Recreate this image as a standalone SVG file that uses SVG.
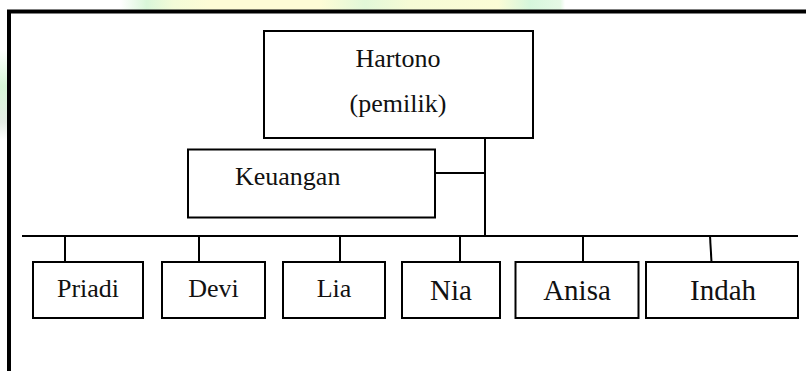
<svg xmlns="http://www.w3.org/2000/svg" width="806" height="371" viewBox="0 0 806 371">
  <defs>
    <linearGradient id="wm" x1="0" y1="0" x2="1" y2="0">
      <stop offset="0" stop-color="#ffffff"/>
      <stop offset="0.06" stop-color="#d9f6d9"/>
      <stop offset="0.12" stop-color="#f3fbd8"/>
      <stop offset="0.2" stop-color="#fdfcd6"/>
      <stop offset="0.45" stop-color="#fdfcd6"/>
      <stop offset="0.55" stop-color="#e2f8d8"/>
      <stop offset="0.65" stop-color="#f6fbd6"/>
      <stop offset="0.85" stop-color="#fbfcd6"/>
      <stop offset="0.92" stop-color="#d6f6dc"/>
      <stop offset="0.99" stop-color="#e6f9e6"/>
      <stop offset="1" stop-color="#ffffff"/>
    </linearGradient>
    <linearGradient id="wmv" x1="0" y1="0" x2="0" y2="1">
      <stop offset="0" stop-color="#ffffff"/>
      <stop offset="0.4" stop-color="#d6f6d6"/>
      <stop offset="0.8" stop-color="#e4ece4"/>
      <stop offset="1" stop-color="#ffffff"/>
    </linearGradient>
    <style>
      .box { fill: #ffffff; stroke: #000000; stroke-width: 2; }
      .ln { fill: none; stroke: #000000; stroke-width: 2; }
      .t { font-family: "Liberation Serif", "Times New Roman", serif; fill: #111111; }
      .s { font-size: 26px; }
      .b { font-size: 29px; }
    </style>
  </defs>
  <rect x="0" y="0" width="806" height="371" fill="#ffffff"/>
  <g id="watermark">
    <rect x="120" y="0" width="445" height="10" fill="url(#wm)"/>
    <rect x="0" y="50" width="7" height="90" fill="url(#wmv)"/>
  </g>
  <rect id="frame" x="9" y="11.5" width="900" height="500" fill="none" stroke="#000000" stroke-width="4"/>

  <g id="connectors">
    <line class="ln" x1="485" y1="138" x2="485" y2="236"/>
    <line class="ln" x1="435" y1="173" x2="485" y2="173"/>
    <line class="ln" x1="22" y1="236" x2="798" y2="236"/>
    <line class="ln" x1="65" y1="236" x2="65" y2="262"/>
    <line class="ln" x1="199" y1="236" x2="199" y2="262"/>
    <line class="ln" x1="340" y1="236" x2="340" y2="262"/>
    <line class="ln" x1="460" y1="236" x2="460" y2="262"/>
    <line class="ln" x1="583" y1="236" x2="583" y2="262"/>
    <line class="ln" x1="710" y1="236" x2="711.5" y2="262"/>
  </g>

  <g id="hartono">
    <rect class="box" x="264" y="31" width="269" height="107"/>
    <text class="t s" x="398" y="67" text-anchor="middle">Hartono</text>
    <text class="t s" x="398" y="112" text-anchor="middle">(pemilik)</text>
  </g>
  <g id="keuangan">
    <rect class="box" x="188" y="149.5" width="247" height="68"/>
    <text class="t s" x="235" y="185">Keuangan</text>
  </g>
  <g id="priadi">
    <rect class="box" x="33" y="262" width="110" height="56"/>
    <text class="t s" x="88" y="297" text-anchor="middle">Priadi</text>
  </g>
  <g id="devi">
    <rect class="box" x="162" y="262" width="103" height="56"/>
    <text class="t s" x="213.5" y="297" text-anchor="middle">Devi</text>
  </g>
  <g id="lia">
    <rect class="box" x="283" y="262" width="102" height="56"/>
    <text class="t s" x="334" y="297" text-anchor="middle">Lia</text>
  </g>
  <g id="nia">
    <rect class="box" x="402" y="262" width="98" height="56"/>
    <text class="t b" x="451" y="300" text-anchor="middle">Nia</text>
  </g>
  <g id="anisa">
    <rect class="box" x="515.5" y="262" width="123" height="56"/>
    <text class="t b" x="577" y="300" text-anchor="middle">Anisa</text>
  </g>
  <g id="indah">
    <rect class="box" x="646" y="262" width="152" height="56"/>
    <text class="t b" x="723" y="300" text-anchor="middle">Indah</text>
  </g>
</svg>
